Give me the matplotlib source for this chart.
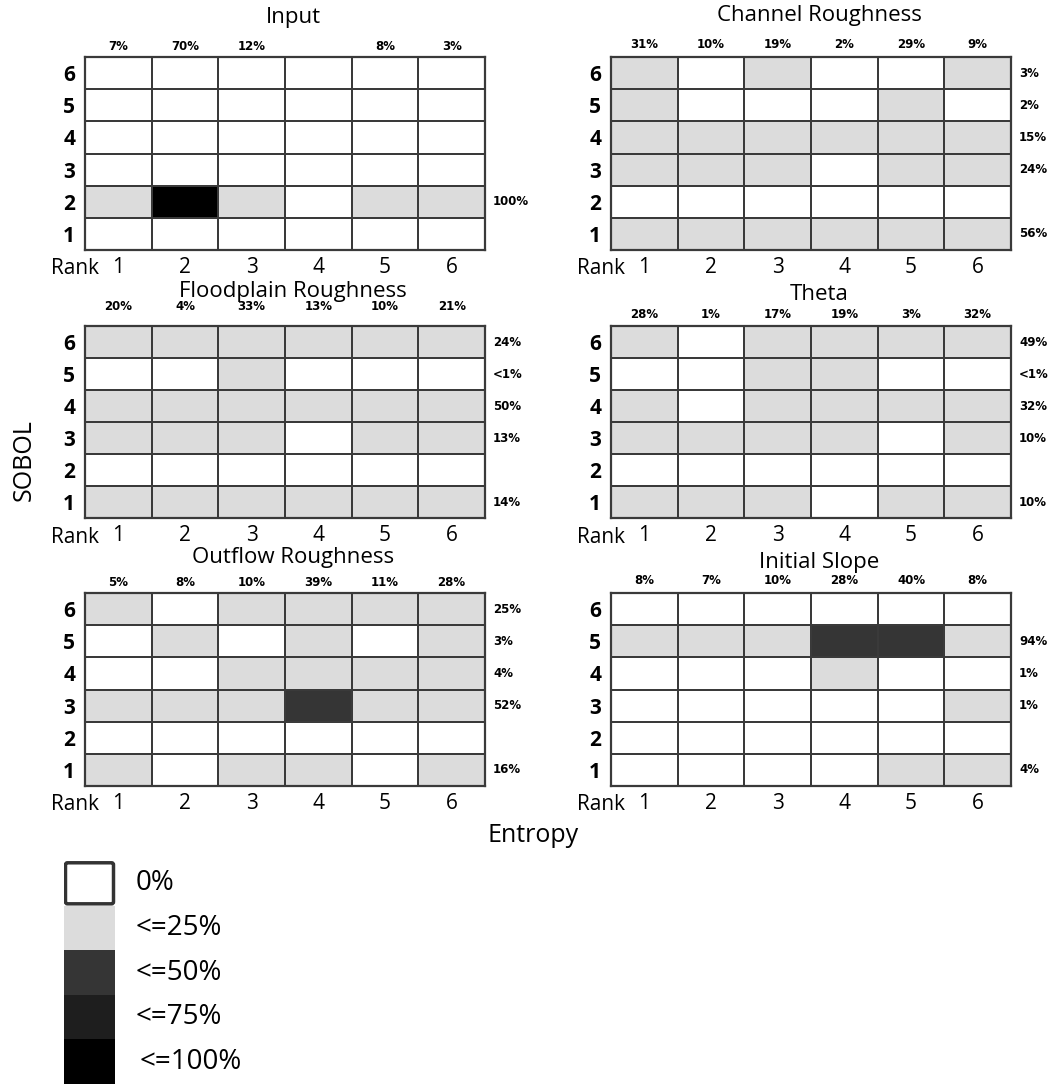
import numpy as np
import matplotlib
matplotlib.use("Agg")
import matplotlib.pyplot as plt
from matplotlib.colors import ListedColormap, BoundaryNorm
from matplotlib.patches import Rectangle, FancyBboxPatch

plt.rcParams['font.family'] = ['Open Sans', 'DejaVu Sans']

# ---------------- data ----------------
ranks = ['1', '2', '3', '4', '5', '6']
panel_titles = ['Input', 'Channel Roughness', 'Floodplain Roughness',
                'Theta', 'Outflow Roughness', 'Initial Slope']

# category per cell: 0 = 0%, 1 = <=25%, 2 = <=50%, 3 = <=75%, 4 = <=100%
# rows listed top (Sobol rank 6) to bottom (Sobol rank 1), columns = entropy rank 1..6
input_cells = [[0, 0, 0, 0, 0, 0],
               [0, 0, 0, 0, 0, 0],
               [0, 0, 0, 0, 0, 0],
               [0, 0, 0, 0, 0, 0],
               [1, 4, 1, 0, 1, 1],
               [0, 0, 0, 0, 0, 0]]
channel_cells = [[1, 0, 1, 0, 0, 1],
                 [1, 0, 0, 0, 1, 0],
                 [1, 1, 1, 1, 1, 1],
                 [1, 1, 1, 0, 1, 1],
                 [0, 0, 0, 0, 0, 0],
                 [1, 1, 1, 1, 1, 1]]
floodplain_cells = [[1, 1, 1, 1, 1, 1],
                    [0, 0, 1, 0, 0, 0],
                    [1, 1, 1, 1, 1, 1],
                    [1, 1, 1, 0, 1, 1],
                    [0, 0, 0, 0, 0, 0],
                    [1, 1, 1, 1, 1, 1]]
theta_cells = [[1, 0, 1, 1, 1, 1],
               [0, 0, 1, 1, 0, 0],
               [1, 0, 1, 1, 1, 1],
               [1, 1, 1, 1, 0, 1],
               [0, 0, 0, 0, 0, 0],
               [1, 1, 1, 0, 1, 1]]
outflow_cells = [[1, 0, 1, 1, 1, 1],
                 [0, 1, 0, 1, 0, 1],
                 [0, 0, 1, 1, 1, 1],
                 [1, 1, 1, 2, 1, 1],
                 [0, 0, 0, 0, 0, 0],
                 [1, 0, 1, 1, 0, 1]]
slope_cells = [[0, 0, 0, 0, 0, 0],
               [1, 1, 1, 2, 2, 1],
               [0, 0, 0, 1, 0, 0],
               [0, 0, 0, 0, 0, 1],
               [0, 0, 0, 0, 0, 0],
               [0, 0, 0, 0, 1, 1]]

# column (entropy) percentages, ranks 1..6
input_top = ['7%', '70%', '12%', '', '8%', '3%']
channel_top = ['31%', '10%', '19%', '2%', '29%', '9%']
floodplain_top = ['20%', '4%', '33%', '13%', '10%', '21%']
theta_top = ['28%', '1%', '17%', '19%', '3%', '32%']
outflow_top = ['5%', '8%', '10%', '39%', '11%', '28%']
slope_top = ['8%', '7%', '10%', '28%', '40%', '8%']

# row (Sobol) percentages, rank 6 (top) .. 1 (bottom)
input_right = ['', '', '', '', '100%', '']
channel_right = ['3%', '2%', '15%', '24%', '', '56%']
floodplain_right = ['24%', '<1%', '50%', '13%', '', '14%']
theta_right = ['49%', '<1%', '32%', '10%', '', '10%']
outflow_right = ['25%', '3%', '4%', '52%', '', '16%']
slope_right = ['', '94%', '1%', '1%', '', '4%']

legend_labels = ['0%', '<=25%', '<=50%', '<=75%', '<=100%']
level_colors = ['#ffffff', '#dcdcdc', '#353535', '#1e1e1e', '#000000']

cells_all = [input_cells, channel_cells, floodplain_cells, theta_cells, outflow_cells, slope_cells]
tops_all = [input_top, channel_top, floodplain_top, theta_top, outflow_top, slope_top]
rights_all = [input_right, channel_right, floodplain_right, theta_right, outflow_right, slope_right]

# ---------------- layout (pixels) ----------------
W, H = 1057, 1084
fig = plt.figure(figsize=(W / 100, H / 100), dpi=100)

boxes = [(85, 57, 485, 250), (611, 57, 1011, 250),
         (85, 326, 485, 518), (611, 326, 1011, 518),
         (85, 593, 485, 786), (611, 593, 1011, 786)]
title_y = [18, 15, 292, 295, 558, 563]
top_y = [46, 44, 307, 315, 582, 580]

cmap = ListedColormap(level_colors)
norm = BoundaryNorm([-0.5, 0.5, 1.5, 2.5, 3.5, 4.5], cmap.N)
line_col = '#3a3a3a'
small_font = ['DejaVu Sans']

for i in range(6):
    x0, y0, x1, y1 = boxes[i]
    ax = fig.add_axes([x0 / W, 1 - y1 / H, (x1 - x0) / W, (y1 - y0) / H])
    grid = np.array(cells_all[i])[::-1]
    ax.pcolormesh(np.arange(7), np.arange(7), grid, cmap=cmap, norm=norm,
                  edgecolors=line_col, linewidth=1.4)
    ax.set_xlim(0, 6)
    ax.set_ylim(0, 6)
    for s in ax.spines.values():
        s.set_color(line_col)
        s.set_linewidth(1.6)
    ax.set_xticks(np.arange(6) + 0.5, ranks)
    ax.set_yticks(np.arange(6) + 0.5, ranks)
    ax.tick_params(length=0)
    ax.tick_params(axis='x', pad=5, labelsize=15)
    ax.tick_params(axis='y', pad=7, labelsize=15)
    for lab in ax.get_yticklabels():
        lab.set_fontweight('bold')
    hpx = y1 - y0
    wpx = x1 - x0
    # title
    ax.text(0.52, 1 + (y0 - title_y[i]) / hpx, panel_titles[i], transform=ax.transAxes,
            ha='center', va='center', fontsize=16)
    # column percentages
    for j, t in enumerate(tops_all[i]):
        if t:
            ax.text(j + 0.5, 6 + 6 * (y0 - top_y[i]) / hpx, t, ha='center', va='center',
                    fontsize=8.5, fontweight='bold', family=small_font)
    # row percentages
    for r, t in enumerate(rights_all[i]):
        if t:
            ax.text(6 + 6 * 8 / wpx, 5.5 - r, t, ha='left', va='center',
                    fontsize=8.5, fontweight='bold', family=small_font)
    # 'Rank' label
    ax.text(14 / wpx, -19 / hpx, 'Rank', transform=ax.transAxes, ha='right', va='center',
            fontsize=15)

fig.text(24 / W, 1 - 460 / H, 'SOBOL', rotation=90, ha='center', va='center', fontsize=18)
fig.text(533 / W, 1 - 836 / H, 'Entropy', ha='center', va='center', fontsize=18)

# ---------------- legend ----------------
lx0, ly0, lx1, ly1 = 64, 861, 330, 1084
lax = fig.add_axes([lx0 / W, 1 - ly1 / H, (lx1 - lx0) / W, (ly1 - ly0) / H])
lax.set_xlim(0, lx1 - lx0)
lax.set_ylim(len(legend_labels), 0)
lax.axis('off')
for k, (lab, col) in enumerate(zip(legend_labels, level_colors)):
    if k == 0:
        lax.add_patch(FancyBboxPatch((1.5, k + 0.04), 48, 0.92,
                                     boxstyle='round,pad=0,rounding_size=2',
                                     facecolor=col, edgecolor='#333333', linewidth=2.5,
                                     mutation_aspect=1 / 44))
    else:
        lax.add_patch(Rectangle((0, k), 51, 1, facecolor=col, edgecolor='none'))
    lax.text(72 if k < 4 else 76, k + 0.5, lab, ha='left', va='center', fontsize=20)

fig.savefig('out.png', dpi=100)
